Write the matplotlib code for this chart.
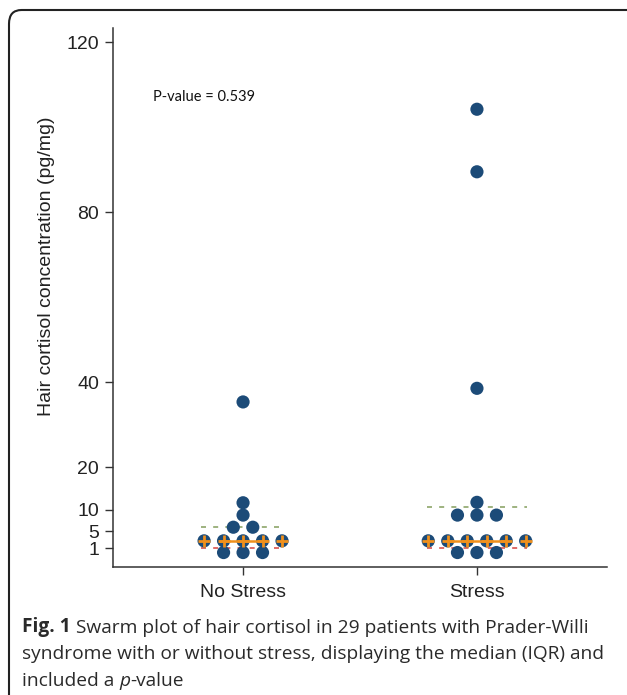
import numpy as np
import matplotlib.pyplot as plt
from matplotlib.patches import FancyBboxPatch

# binned values (pg/mg)
groups = ['No Stress', 'Stress']
no_stress = [35.4, 11.7, 8.8, 5.95, 5.95, 2.75, 2.75, 2.75, 2.75, 2.75, 0.0, 0.0, 0.0]
stress = [104.2, 89.5, 38.6, 11.8, 8.8, 8.8, 8.8,
          2.75, 2.75, 2.75, 2.75, 2.75, 2.75, 0.0, 0.0, 0.0]
medians = [2.75, 2.75]
q1 = [1.1, 1.1]
q3 = [5.95, 10.65]
yticks = [1, 5, 10, 20, 40, 80, 120]
p_text = 'P-value = 0.539'

navy = '#1c4b78'
orange = '#f0901c'

fig = plt.figure(figsize=(6.27, 6.95), dpi=100)
ax = fig.add_axes([113 / 627, 1 - 567 / 695, 494 / 627, 539 / 695])

step = 0.0833
for i, vals in enumerate([no_stress, stress]):
    xc = i + 1
    vals = np.array(vals)
    half = 0.18 if i == 0 else 0.215
    # IQR lines
    ax.plot([xc - half, xc + half], [q3[i], q3[i]], color='#8da66a', lw=1.2,
            ls=(0, (3, 4.3)), zorder=1)
    ax.plot([xc - half, xc + half], [q1[i], q1[i]], color='#d9534f', lw=1.2,
            ls=(0, (3, 4.3)), zorder=1)
    xs, ys = [], []
    for v in np.unique(vals):
        n = np.sum(vals == v)
        off = (np.arange(n) - (n - 1) / 2) * step
        xs.extend(xc + off)
        ys.extend([v] * n)
    ax.scatter(xs, ys, s=90, color=navy, edgecolors='none', zorder=3)
    # median
    row = np.sum(vals == medians[i])
    w = 0.1 if i == 0 else 0.12
    ax.plot([xc - w, xc + w], [medians[i], medians[i]], color=orange, lw=1.8, zorder=4)
    off = (np.arange(row) - (row - 1) / 2) * step
    ax.plot(xc + off, [medians[i]] * row, ls='none', marker='+', ms=9, mew=2,
            color=orange, zorder=5)

ax.text(0.615, 107.1, p_text, fontsize=10.5, family='Lato', va='center', ha='left',
        color='#111111')

ax.set_xlim(0.444, 2.556)
ax.set_ylim(-3.4, 123.3)
ax.set_xticks([1, 2])
ax.set_xticklabels(groups)
ax.set_yticks(yticks)
for s in ['top', 'right']:
    ax.spines[s].set_visible(False)
for s in ['left', 'bottom']:
    ax.spines[s].set_linewidth(1.1)
    ax.spines[s].set_color('#333333')
ax.tick_params(axis='both', length=6, width=1, color='#333333',
               labelsize=14, labelcolor='#222222', labelfontfamily='Liberation Sans')
ax.tick_params(axis='y', pad=4)
ax.tick_params(axis='x', pad=6)

fig.text(47 / 627, 1 - 266 / 695, 'Hair cortisol concentration (pg/mg)', rotation=90,
         ha='center', va='center', fontsize=14, family='Liberation Sans', color='#222222')

# frame round the figure
frame = FancyBboxPatch((9 / 627, -0.1), 1.2, 1 - 10 / 695 + 0.1,
                       boxstyle='round,pad=0,rounding_size=0.02',
                       transform=fig.transFigure, fill=False, lw=1.5,
                       edgecolor='#222222', clip_on=False)
fig.patches.append(frame)

# caption
cf = 'Open Sans'
cs = 13.8
cc = '#2a2a2a'
t1 = fig.text(22 / 627, 1 - 632 / 695, 'Fig. 1', fontsize=cs, family=cf,
              fontweight='bold', va='baseline', color=cc)
ax.annotate(' Swarm plot of hair cortisol in 29 patients with Prader-Willi',
            xy=(1, 0), xycoords=t1, va='bottom', fontsize=cs, family=cf,
            color=cc, annotation_clip=False)
fig.text(22 / 627, 1 - 659 / 695,
         'syndrome with or without stress, displaying the median (IQR) and',
         fontsize=cs, family=cf, va='baseline', color=cc)
t3 = fig.text(22 / 627, 1 - 686 / 695, 'included a ', fontsize=cs, family=cf,
              va='baseline', color=cc)
t4 = ax.annotate('p', xy=(1, 0), xycoords=t3, va='bottom', fontsize=cs, family=cf,
                 style='italic', color=cc, annotation_clip=False)
ax.annotate('-value', xy=(1, 0), xycoords=t4, va='bottom', fontsize=cs, family=cf,
            color=cc, annotation_clip=False)

fig.savefig('out.png', dpi=100)
